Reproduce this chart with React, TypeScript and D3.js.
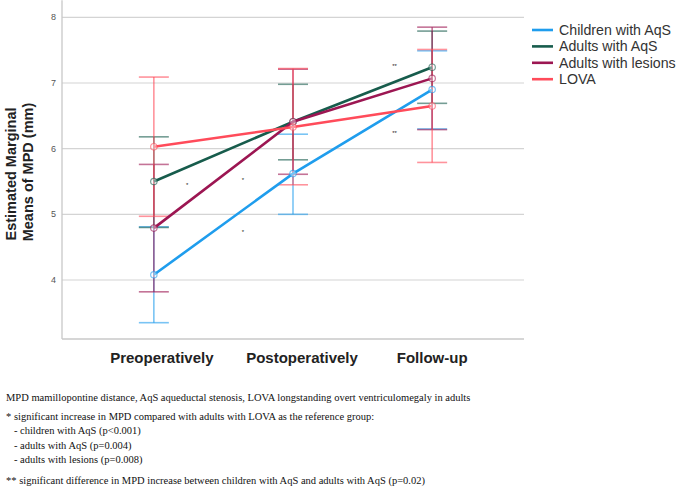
import React from "react";
import * as d3 from "d3";

const categories = ["Preoperatively", "Postoperatively", "Follow-up"];
const seriesNames = ["Children with AqS", "Adults with AqS", "Adults with lesions", "LOVA"];
const seriesColors = ["#1f9ded", "#175c4c", "#9c1652", "#ff4b5a"];

// estimated marginal means and CI bounds, one array per group
const childrenMean = [4.08, 5.62, 6.9];
const childrenLow = [3.35, 5.0, 6.3];
const childrenHigh = [4.81, 6.22, 7.49];
const adultsAqsMean = [5.5, 6.41, 7.24];
const adultsAqsLow = [4.8, 5.83, 6.69];
const adultsAqsHigh = [6.18, 6.98, 7.79];
const lesionsMean = [4.79, 6.41, 7.07];
const lesionsLow = [3.82, 5.61, 6.29];
const lesionsHigh = [5.76, 7.21, 7.85];
const lovaMean = [6.03, 6.33, 6.65];
const lovaLow = [4.97, 5.45, 5.79];
const lovaHigh = [7.09, 7.22, 7.51];

const yTicks = [4, 5, 6, 7, 8];

// significance marks: [from category index, fraction toward next, value, label]
const marks: [number, number, number, string][] = [
  [0, 0.24, 5.46, "*"],
  [0, 0.64, 5.54, "*"],
  [0, 0.64, 4.75, "*"],
  [1, 0.73, 7.27, "**"],
  [1, 0.73, 6.25, "**"],
];

const footnotes = [
  "MPD mamillopontine distance, AqS aqueductal stenosis, LOVA longstanding overt ventriculomegaly in adults",
  "* significant increase in MPD compared with adults with LOVA as the reference group:",
  "   - children with AqS (p<0.001)",
  "   - adults with AqS (p=0.004)",
  "   - adults with lesions (p=0.008)",
  "** significant difference in MPD increase between children with AqS and adults with AqS (p=0.02)",
];
const footnoteY = [401, 420, 434, 449, 463, 484];

export default function App() {
  const width = 685;
  const height = 487;
  const left = 62;
  const right = 524;

  const series = [
    { mean: childrenMean, low: childrenLow, high: childrenHigh },
    { mean: adultsAqsMean, low: adultsAqsLow, high: adultsAqsHigh },
    { mean: lesionsMean, low: lesionsLow, high: lesionsHigh },
    { mean: lovaMean, low: lovaLow, high: lovaHigh },
  ];

  const x = d3.scalePoint().domain(categories).range([left, right]).padding(0.66);
  const y = d3.scaleLinear().domain([4, 8]).range([280, 17.3]);
  const axisBottom = y(3.1);
  const axisTop = y(8.26);

  const line = d3
    .line<number>()
    .x((d, i) => x(categories[i]) as number)
    .y((d) => y(d));

  const capW = 15;
  // the category labels sit slightly off their points in the original
  const labelDx = [8, 9, 0];

  return (
    <svg
      width={width}
      height={height}
      style={{ position: "absolute", left: 0, top: 0, background: "#fff" }}
      fontFamily="Liberation Sans, Arial, sans-serif"
    >
      {/* grid */}
      {yTicks.map((t) => (
        <g key={t}>
          <line x1={left} x2={right} y1={y(t)} y2={y(t)} stroke="#d4d4d4" strokeWidth={1.2} />
          <text x={56} y={y(t) + 3} fontSize={9} fill="#555" textAnchor="end">
            {t}
          </text>
        </g>
      ))}
      <line x1={left} x2={left} y1={axisTop} y2={axisBottom} stroke="#c8c8c8" strokeWidth={1.3} />
      <line x1={left} x2={right} y1={axisBottom} y2={axisBottom} stroke="#c8c8c8" strokeWidth={1.5} />

      {/* error bars */}
      {series.map((s, si) =>
        categories.map((c, i) => {
          const cx = x(c) as number;
          return (
            <g key={si + "-" + i} stroke={seriesColors[si]} strokeOpacity={0.6} strokeWidth={1.6}>
              <line x1={cx} x2={cx} y1={y(s.low[i])} y2={y(s.high[i])} />
              <line x1={cx - capW} x2={cx + capW} y1={y(s.low[i])} y2={y(s.low[i])} />
              <line x1={cx - capW} x2={cx + capW} y1={y(s.high[i])} y2={y(s.high[i])} />
            </g>
          );
        })
      )}

      {/* mean lines */}
      {series.map((s, si) => (
        <g key={"l" + si}>
          <path d={line(s.mean) || ""} fill="none" stroke={seriesColors[si]} strokeWidth={2.6} />
          {s.mean.map((m, i) => (
            <circle
              key={i}
              cx={x(categories[i]) as number}
              cy={y(m)}
              r={3.2}
              fill="#fff"
              fillOpacity={0.4}
              stroke={seriesColors[si]}
              strokeOpacity={0.6}
              strokeWidth={1.2}
            />
          ))}
        </g>
      ))}

      {/* significance marks */}
      {marks.map(([ci, f, v, lbl], k) => {
        const x0 = x(categories[ci]) as number;
        const x1 = x(categories[ci + 1]) as number;
        return (
          <text key={k} x={x0 + (x1 - x0) * f} y={y(v) + 3} fontSize={6} textAnchor="middle" fill="#222">
            {lbl}
          </text>
        );
      })}

      {/* category labels */}
      {categories.map((c, i) => (
        <text
          key={c}
          x={(x(c) as number) + labelDx[i]}
          y={363}
          fontSize={15}
          fontWeight="bold"
          textAnchor="middle"
          fill="#222"
        >
          {c}
        </text>
      ))}

      {/* y axis title */}
      <g fontSize={14.5} fontWeight="bold" fill="#222" textAnchor="middle">
        <text transform={`translate(16,174) rotate(-90)`}>Estimated Marginal</text>
        <text transform={`translate(33,172) rotate(-90)`}>Means of MPD (mm)</text>
      </g>

      {/* legend */}
      {seriesNames.map((n, i) => (
        <g key={n} transform={`translate(532,${30 + i * 16.4})`}>
          <line x1={0} x2={21} y1={0} y2={0} stroke={seriesColors[i]} strokeWidth={2.6} />
          <text x={27} y={5} fontSize={14.2} fill="#333">
            {n}
          </text>
        </g>
      ))}

      {/* footnotes */}
      <g fontFamily="Liberation Serif, Times New Roman, serif" fontSize={10.5} fill="#111">
        {footnotes.map((t, i) => (
          <text key={i} x={6} y={footnoteY[i]} style={{ whiteSpace: "pre" }}>
            {t}
          </text>
        ))}
      </g>
    </svg>
  );
}
